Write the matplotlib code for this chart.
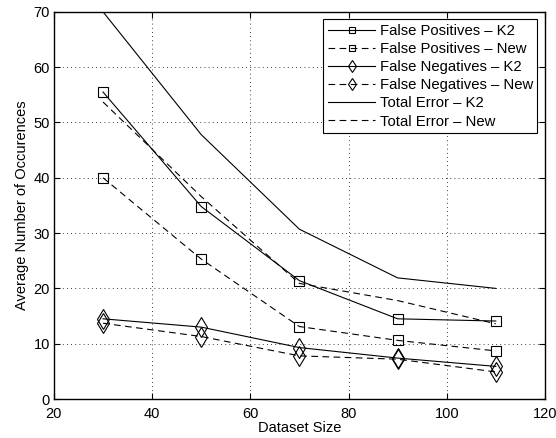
import matplotlib
matplotlib.use('Agg')
import matplotlib.pyplot as plt

plt.rcParams['font.family'] = ['Liberation Sans', 'DejaVu Sans']

dataset_size = [30, 50, 70, 90, 110]
fp_k2 = [55.5, 34.8, 21.4, 14.5, 14.1]
fp_new = [40.0, 25.3, 13.1, 10.6, 8.7]
fn_k2 = [14.5, 13.0, 9.3, 7.4, 5.9]
fn_new = [13.7, 11.3, 7.8, 7.2, 4.9]
total_k2 = [70.0, 47.8, 30.7, 21.9, 20.0]
total_new = [53.7, 36.6, 20.9, 17.8, 13.6]

fig = plt.figure(figsize=(5.56, 4.38), dpi=100)
ax = fig.add_axes([0.097, 0.089, 0.883, 0.884])

dash = (0, (6, 4))
sq = dict(marker='s', markersize=7, markerfacecolor='none', markeredgecolor='black', markeredgewidth=0.8)
dm = dict(marker='d', markersize=10, markerfacecolor='none', markeredgecolor='black', markeredgewidth=0.8)

ax.plot(dataset_size, fp_k2, color='black', lw=0.8, label='False Positives \u2013 K2', **sq)
ax.plot(dataset_size, fp_new, color='black', lw=0.8, linestyle=dash, label='False Positives \u2013 New', **sq)
ax.plot(dataset_size, fn_k2, color='black', lw=0.8, label='False Negatives \u2013 K2', **dm)
ax.plot(dataset_size, fn_new, color='black', lw=0.8, linestyle=dash, label='False Negatives \u2013 New', **dm)
ax.plot(dataset_size, total_k2, color='black', lw=0.8, label='Total Error \u2013 K2')
ax.plot(dataset_size, total_new, color='black', lw=0.8, linestyle=dash, label='Total Error \u2013 New')

ax.set_xlim(20, 120)
ax.set_ylim(0, 70)
ax.set_xticks(range(20, 121, 20))
ax.set_yticks(range(0, 71, 10))
ax.grid(True, color='black', linestyle=(0, (1, 4)), linewidth=0.6)
ax.tick_params(direction='in', top=True, right=True, labelsize=10.5, length=4)
ax.tick_params(axis='x', pad=6)
ax.tick_params(axis='y', pad=3)
for s in ax.spines.values():
    s.set_linewidth(1.0)

ax.set_xlabel('Dataset Size', fontsize=10.5, labelpad=0)
ax.set_ylabel('Average Number of Occurences', fontsize=10.5, labelpad=3)

leg = ax.legend(loc='upper right', fontsize=10.7, frameon=True, fancybox=False,
                edgecolor='black', framealpha=1, handlelength=3.2,
                borderpad=0.3, labelspacing=0.28, handletextpad=0.3,
                borderaxespad=0.5, markerscale=0.65)
leg.get_frame().set_linewidth(0.8)

fig.savefig('out.png', dpi=100)
